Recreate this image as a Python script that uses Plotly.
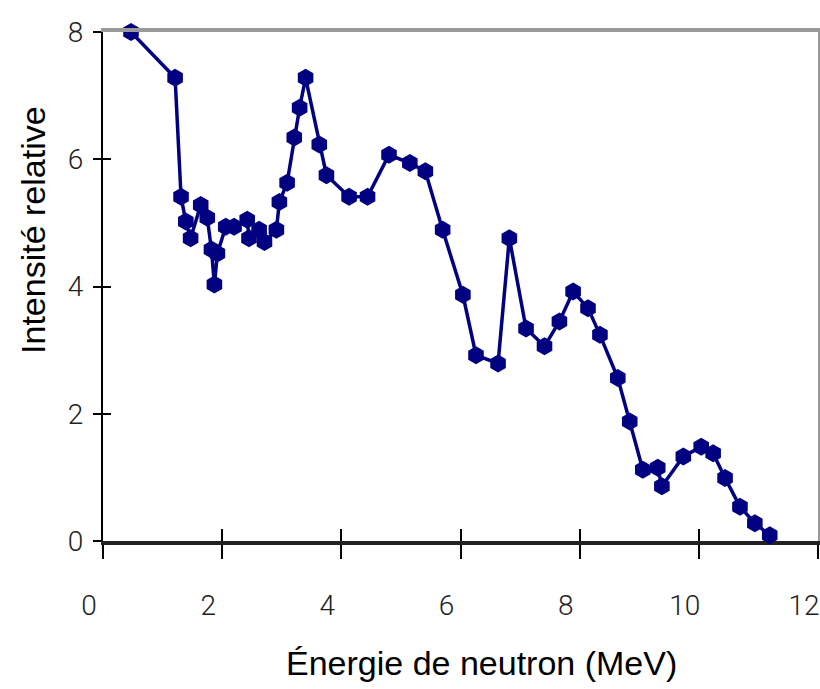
import plotly.graph_objects as go

# neutron energy (MeV) and relative intensity
energie = [0.47, 1.21, 1.31, 1.39, 1.47, 1.64, 1.75, 1.82, 1.87, 1.92,
           2.06, 2.20, 2.42, 2.45, 2.62, 2.71, 2.91, 2.96, 3.09, 3.21,
           3.30, 3.40, 3.63, 3.75, 4.13, 4.44, 4.80, 5.15, 5.41, 5.70,
           6.04, 6.26, 6.63, 6.82, 7.10, 7.41, 7.66, 7.89, 8.14, 8.34,
           8.64, 8.84, 9.06, 9.31, 9.38, 9.74, 10.04, 10.24, 10.44, 10.69,
           10.94, 11.19]
intensite = [8.0, 7.28, 5.41, 5.02, 4.76, 5.28, 5.08, 4.58, 4.03, 4.52,
             4.94, 4.94, 5.05, 4.76, 4.89, 4.70, 4.89, 5.33, 5.63, 6.34,
             6.81, 7.28, 6.23, 5.75, 5.41, 5.41, 6.07, 5.94, 5.81, 4.89,
             3.87, 2.92, 2.79, 4.76, 3.34, 3.06, 3.45, 3.92, 3.66, 3.24,
             2.56, 1.88, 1.12, 1.15, 0.86, 1.33, 1.48, 1.38, 0.99, 0.54,
             0.28, 0.09]

x_ticks = [0, 2, 4, 6, 8, 10, 12]
y_ticks = [0, 2, 4, 6, 8]

navy = "#000080"
tick_font = dict(family="Roboto, Liberation Sans Narrow, DejaVu Sans", weight=300,
                 size=28, color="#222")
title_font = dict(family="Liberation Sans, Arial", size=34, color="black")

fig = go.Figure()

# invisible traces so the extra axes are drawn
fig.add_trace(go.Scatter(x=[None], y=[None], xaxis="x2", yaxis="y2",
                         showlegend=False, hoverinfo="skip"))
fig.add_trace(go.Scatter(x=[None], y=[None], xaxis="x3", yaxis="y3",
                         showlegend=False, hoverinfo="skip"))

fig.add_trace(go.Scatter(
    x=energie, y=intensite, mode="lines+markers",
    line=dict(color=navy, width=3.5),
    marker=dict(symbol="hexagon", size=18, color=navy),
    cliponaxis=False, showlegend=False))

fig.update_layout(
    width=820, height=689,
    margin=dict(l=103, r=2, t=32, b=148),
    paper_bgcolor="white", plot_bgcolor="white",
    xaxis=dict(range=[0, 12], tickvals=x_ticks, showgrid=False, zeroline=False,
               automargin=False, layer="below traces",
               showline=True, linecolor="#222", linewidth=4,
               ticks="outside", ticklen=14, tickwidth=1.5, tickcolor="black",
               tickfont=tick_font, ticklabelstandoff=22, ticklabelshift=-14,
               ticklabeloverflow="allow"),
    yaxis=dict(range=[0, 8], tickvals=y_ticks, showgrid=False, zeroline=False,
               automargin=False, layer="below traces",
               showline=True, linecolor="black", linewidth=2,
               ticks="outside", ticklen=8, tickwidth=1.5, tickcolor="black",
               tickfont=tick_font, ticklabelstandoff=4),
    # inner half of the crossing ticks
    xaxis2=dict(overlaying="x", anchor="y2", range=[0, 12], tickvals=x_ticks,
                side="bottom", showticklabels=False, showgrid=False, zeroline=False,
                automargin=False,
                ticks="inside", ticklen=12, tickwidth=1.5, tickcolor="black"),
    yaxis2=dict(overlaying="y", anchor="x2", range=[0, 8], tickvals=y_ticks,
                side="left", showticklabels=False, showgrid=False, zeroline=False,
                automargin=False,
                ticks="inside", ticklen=8, tickwidth=1.5, tickcolor="black"),
    # grey frame on top and right
    xaxis3=dict(overlaying="x", anchor="y3", range=[0, 12], side="top", showline=True,
                linecolor="#9a9a9a", linewidth=4, showticklabels=False,
                showgrid=False, zeroline=False, ticks="", automargin=False),
    yaxis3=dict(overlaying="y", anchor="x3", range=[0, 8], side="right", showline=True,
                linecolor="#9a9a9a", linewidth=2, showticklabels=False,
                showgrid=False, zeroline=False, ticks="", automargin=False),
    annotations=[
        dict(text="Énergie de neutron (MeV)", xref="paper", yref="paper",
             x=0.53, y=-0.24, xanchor="center", yanchor="middle",
             showarrow=False, font=title_font),
        dict(text="Intensité relative", xref="paper", yref="paper",
             x=-0.098, y=0.611, xanchor="center", yanchor="middle",
             textangle=-90, showarrow=False, font=title_font),
    ],
)

# drop the default 8px body margin so the figure fills the window exactly
fig.write_html("out.html", config={"displayModeBar": False},
               post_script="document.body.style.margin='0';"
                           "document.body.style.overflow='hidden';")
